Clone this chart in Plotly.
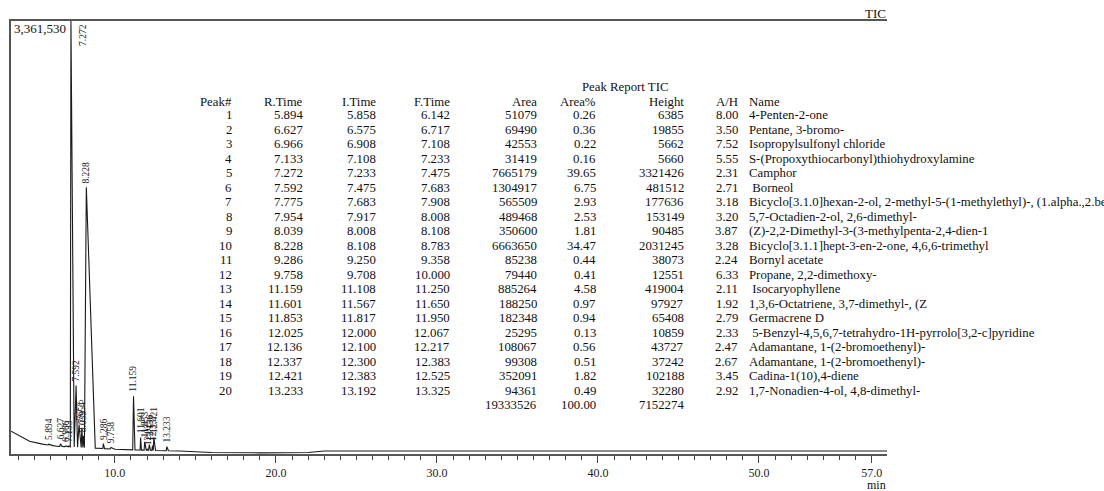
import numpy as np
import plotly.graph_objects as go

# ---------------- data ----------------
peak_no = list(range(1, 21))
r_time = [5.894, 6.627, 6.966, 7.133, 7.272, 7.592, 7.775, 7.954, 8.039, 8.228,
          9.286, 9.758, 11.159, 11.601, 11.853, 12.025, 12.136, 12.337, 12.421, 13.233]
i_time = [5.858, 6.575, 6.908, 7.108, 7.233, 7.475, 7.683, 7.917, 8.008, 8.108,
          9.250, 9.708, 11.108, 11.567, 11.817, 12.000, 12.100, 12.300, 12.383, 13.192]
f_time = [6.142, 6.717, 7.108, 7.233, 7.475, 7.683, 7.908, 8.008, 8.108, 8.783,
          9.358, 10.000, 11.250, 11.650, 11.950, 12.067, 12.217, 12.383, 12.525, 13.325]
area = [51079, 69490, 42553, 31419, 7665179, 1304917, 565509, 489468, 350600, 6663650,
        85238, 79440, 885264, 188250, 182348, 25295, 108067, 99308, 352091, 94361]
area_pct = ["0.26", "0.36", "0.22", "0.16", "39.65", "6.75", "2.93", "2.53", "1.81", "34.47",
            "0.44", "0.41", "4.58", "0.97", "0.94", "0.13", "0.56", "0.51", "1.82", "0.49"]
height = [6385, 19855, 5662, 5660, 3321426, 481512, 177636, 153149, 90485, 2031245,
          38073, 12551, 419004, 97927, 65408, 10859, 43727, 37242, 102188, 32280]
a_h = ["8.00", "3.50", "7.52", "5.55", "2.31", "2.71", "3.18", "3.20", "3.87", "3.28",
       "2.24", "6.33", "2.11", "1.92", "2.79", "2.33", "2.47", "2.67", "3.45", "2.92"]
names = ["4-Penten-2-one",
         "Pentane, 3-bromo-",
         "Isopropylsulfonyl chloride",
         "S-(Propoxythiocarbonyl)thiohydroxylamine",
         "Camphor",
         "\u00a0Borneol",
         "Bicyclo[3.1.0]hexan-2-ol, 2-methyl-5-(1-methylethyl)-, (1.alpha.,2.bet",
         "5,7-Octadien-2-ol, 2,6-dimethyl-",
         "(Z)-2,2-Dimethyl-3-(3-methylpenta-2,4-dien-1",
         "Bicyclo[3.1.1]hept-3-en-2-one, 4,6,6-trimethyl",
         "Bornyl acetate",
         "Propane, 2,2-dimethoxy-",
         "\u00a0Isocaryophyllene",
         "1,3,6-Octatriene, 3,7-dimethyl-, (Z",
         "Germacrene D",
         "\u00a05-Benzyl-4,5,6,7-tetrahydro-1H-pyrrolo[3,2-c]pyridine",
         "Adamantane, 1-(2-bromoethenyl)-",
         "Adamantane, 1-(2-bromoethenyl)-",
         "Cadina-1(10),4-diene",
         "1,7-Nonadien-4-ol, 4,8-dimethyl-"]
total_area = 19333526
total_pct = "100.00"
total_height = 7152274
y_max_label = "3,361,530"
y_max = 3361530

# baseline readings of the TIC trace (time min, intensity)
base_t = [3.55, 4.0, 4.7, 5.5, 6.4, 8.9, 10.5, 12.8, 14.0, 16.0, 19.0, 22.0, 23.0, 30.0, 40.0, 50.0, 57.95]
base_v = [163000, 132000, 85000, 62000, 46000, 30000, 19000, 12000, 8000, -3000, -6000, -3000, 8000, 8000, 8000, 8000, 8000]

x_ticks = [10, 20, 30, 40, 50, 57]
x_ticktext = ["10.0", "20.0", "30.0", "40.0", "50.0", "57.0"]

# ---------------- build trace ----------------
pts = list(zip(base_t, base_v))
apex = []
for it, rt, ft, h in zip(i_time, r_time, f_time, height):
    bi = float(np.interp(it, base_t, base_v))
    br = float(np.interp(rt, base_t, base_v))
    bf = float(np.interp(ft, base_t, base_v))
    pts += [(it, bi), (rt, br + h), (ft, bf)]
    apex.append(br + h)
pts.sort(key=lambda p: p[0])
tx = [p[0] for p in pts]
ty = [p[1] for p in pts]

FONT = "Liberation Serif, Times New Roman, Tinos, Times, serif"
W, H = 1104, 491
L, R, T, B = 11, 887, 21, 456

fig = go.Figure()
fig.add_trace(go.Scatter(x=tx, y=ty, mode="lines",
                         line=dict(color="#1a1a1a", width=1.1),
                         hoverinfo="skip", showlegend=False))

ann = []
# peak labels
for k, (rt, ay) in enumerate(zip(r_time, apex)):
    lab = f"{rt:.3f}"
    if height[k] > 3000000:
        ann.append(dict(x=rt, y=y_max, xref="x", yref="y", text=lab, showarrow=False,
                        textangle=-90, xanchor="left", yanchor="top", xshift=5, yshift=-1,
                        font=dict(family=FONT, size=9.5, color="#222")))
    else:
        ann.append(dict(x=rt, y=ay, xref="x", yref="y", text=lab, showarrow=False,
                        textangle=-90, xanchor="center", yanchor="bottom", yshift=2,
                        font=dict(family=FONT, size=9.5, color="#222")))


def px2paper(px, py):
    return (px - L) / (R - L), (B - py) / (B - T)


def cell(px, py, text, anchor="right", size=12.8):
    x, y = px2paper(px, py)
    ann.append(dict(x=x, y=y, xref="paper", yref="paper", text=text, showarrow=False,
                    xanchor=anchor, yanchor="middle",
                    font=dict(family=FONT, size=size, color="#111")))


# table
col_right = [234, 305, 378, 452, 539, 598, 686, 740]
name_left = 747
headers = ["Peak#", "R.Time", "I.Time", "F.Time", "Area", "Area%", "Height", "A/H"]
cell(625, 87, "Peak Report TIC", anchor="center")
hy = 102
for cx, htxt in zip(col_right, headers):
    cell(cx, hy, htxt)
cell(name_left, hy, "Name", anchor="left")
for i in range(20):
    ry = 115.5 + i * 14.58
    vals = [str(peak_no[i]), f"{r_time[i]:.3f}", f"{i_time[i]:.3f}", f"{f_time[i]:.3f}",
            str(area[i]), area_pct[i], str(height[i]), a_h[i]]
    for cx, v in zip(col_right, vals):
        cell(cx, ry, v)
    cell(name_left, ry, names[i], anchor="left")
ty_tot = 407
cell(col_right[4], ty_tot, str(total_area))
cell(col_right[5], ty_tot, total_pct)
cell(col_right[6], ty_tot, str(total_height))

# corner labels
cell(12, 29, y_max_label, anchor="left", size=13)
cell(888, 13, "TIC", anchor="right", size=13)
cell(888, 487, "min", anchor="right", size=12)

fig.update_layout(
    width=W, height=H,
    margin=dict(l=L, r=W - R, t=T, b=H - B, pad=0),
    paper_bgcolor="white", plot_bgcolor="white",
    annotations=ann,
    xaxis=dict(range=[3.55, 57.95], tickmode="array", tickvals=x_ticks, ticktext=x_ticktext,
               ticks="outside", ticklen=7, tickwidth=1.2, tickcolor="#444",
               minor=dict(ticks="outside", ticklen=4, dtick=1, tick0=0, tickcolor="#444", tickwidth=1),
               showline=True, linecolor="#555", linewidth=1.6, mirror=True,
               showgrid=False, zeroline=False,
               tickfont=dict(family=FONT, size=12, color="#222")),
    yaxis=dict(range=[-15000, y_max], showticklabels=False, ticks="",
               showline=True, linecolor="#555", linewidth=1.6, mirror=False,
               showgrid=False, zeroline=False),
)

fig.write_html("out.html")
